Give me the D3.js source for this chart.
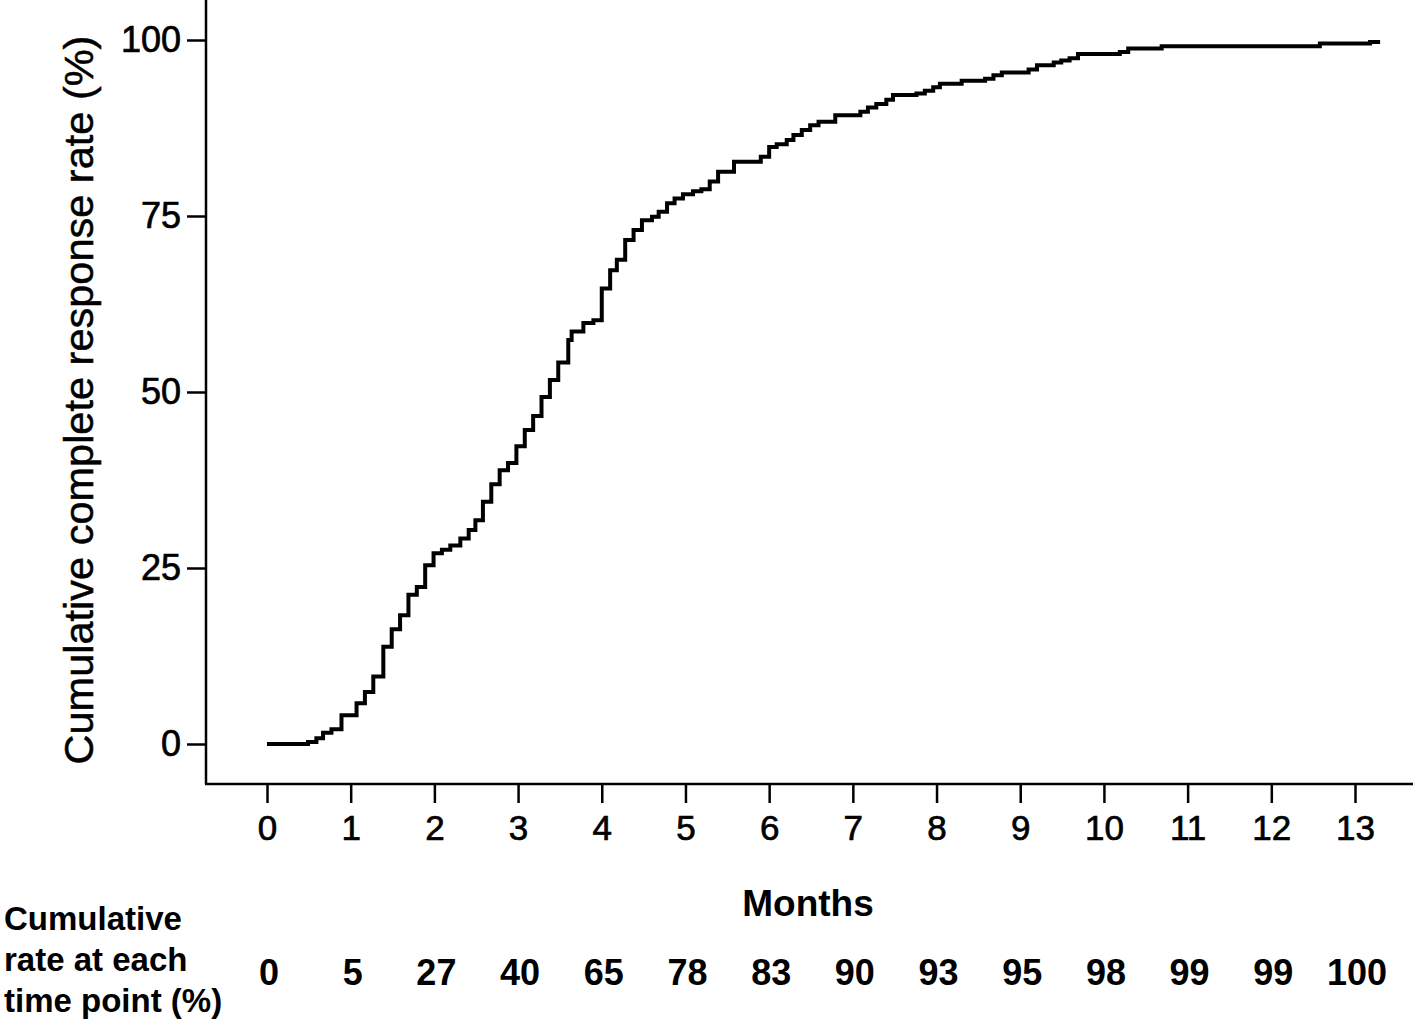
<!DOCTYPE html>
<html>
<head>
<meta charset="utf-8">
<script src="https://cdn.jsdelivr.net/npm/d3@7"></script>
<style>
  body { margin: 0; background: white; }
  text { font-family: "Liberation Sans", Arial, sans-serif; fill: black; }
</style>
</head>
<body>
<div id="chart"></div>
<script>
// step points of the cumulative curve (month, %)
var stepMonths = [0, 0.49, 0.59, 0.67, 0.77, 0.89, 1.07, 1.17, 1.27, 1.39, 1.49, 1.59, 1.69, 1.79, 1.89, 1.99,
  2.09, 2.19, 2.31, 2.41, 2.49, 2.58, 2.68, 2.78, 2.88, 2.98, 3.08, 3.18, 3.28, 3.38, 3.48, 3.60, 3.64, 3.78, 3.90,
  4.0, 4.10, 4.18, 4.28, 4.38, 4.48, 4.60, 4.68, 4.78, 4.87, 4.97, 5.09, 5.19, 5.29, 5.39, 5.58, 5.90,
  6.0, 6.09, 6.21, 6.29, 6.39, 6.49, 6.59, 6.79, 7.09, 7.18, 7.28, 7.40, 7.48, 7.76, 7.86, 7.96,
  8.04, 8.30, 8.58, 8.68, 8.78, 9.10, 9.20, 9.40, 9.49, 9.59, 9.69, 10.19, 10.29, 10.69, 12.58, 13.18, 13.30];
var stepRates = [0, 0.3, 0.8, 1.6, 2.1, 4.1, 5.8, 7.4, 9.6, 13.8, 16.3, 18.3, 21.2, 22.3, 25.4, 27.1,
  27.6, 28.2, 29.2, 30.4, 31.8, 34.4, 36.9, 38.9, 39.9, 42.3, 44.6, 46.6, 49.3, 51.7, 54.2, 57.4, 58.6, 59.8, 60.2,
  64.7, 67.3, 68.8, 71.6, 73.0, 74.4, 74.9, 75.6, 76.8, 77.5, 78.1, 78.5, 78.8, 79.9, 81.3, 82.7, 83.4,
  84.8, 85.2, 85.8, 86.5, 87.2, 87.9, 88.4, 89.3, 89.8, 90.4, 90.9, 91.5, 92.2, 92.4, 92.8, 93.3,
  93.8, 94.2, 94.5, 95.0, 95.4, 95.8, 96.4, 96.8, 97.1, 97.4, 98.0, 98.3, 98.8, 99.1, 99.5, 99.7, 99.7];

var monthTicks = [0, 1, 2, 3, 4, 5, 6, 7, 8, 9, 10, 11, 12, 13];
var rateTicks = [0, 25, 50, 75, 100];
var rowRates = [0, 5, 27, 40, 65, 78, 83, 90, 93, 95, 98, 99, 99, 100];

var width = 1416, height = 1021;

var svg = d3.select("#chart")
  .append("svg")
  .attr("width", width)
  .attr("height", height);

var x = d3.scaleLinear().domain([0, 13]).range([267, 1355]);
var y = d3.scaleLinear().domain([0, 100]).range([744, 40]);

// frame lines
svg.append("line")
  .attr("x1", 206).attr("x2", 206).attr("y1", 0).attr("y2", 784)
  .style("stroke", "black").style("stroke-width", 2.5);
svg.append("line")
  .attr("x1", 205).attr("x2", 1413).attr("y1", 784).attr("y2", 784)
  .style("stroke", "black").style("stroke-width", 2.5);

// x axis
var xAxis = svg.append("g")
  .attr("transform", "translate(0,785)")
  .call(d3.axisBottom(x).tickValues(monthTicks).tickSize(18).tickPadding(12).tickFormat(d3.format("d")));
xAxis.select(".domain").remove();
xAxis.selectAll(".tick line").style("stroke-width", 2.5);
xAxis.selectAll(".tick text")
  .style("font-size", "35px")
  .style("stroke", "black").style("stroke-width", 0.7)
  .attr("font-family", null);

// y axis
var yAxis = svg.append("g")
  .attr("transform", "translate(205,0)")
  .call(d3.axisLeft(y).tickValues(rateTicks).tickSize(18).tickPadding(6));
yAxis.select(".domain").remove();
yAxis.selectAll(".tick line").style("stroke-width", 2.5);
yAxis.selectAll(".tick text")
  .style("font-size", "36px")
  .style("stroke", "black").style("stroke-width", 0.7)
  .attr("font-family", null);

// curve
var points = stepMonths.map(function (m, i) { return [m, stepRates[i]]; });
var line = d3.line()
  .x(function (d) { return x(d[0]); })
  .y(function (d) { return y(d[1]); })
  .curve(d3.curveStepAfter);
svg.append("path")
  .datum(points)
  .attr("d", line)
  .style("fill", "none")
  .style("stroke", "black")
  .style("stroke-width", 4)
  .style("stroke-linejoin", "miter");

// axis titles
svg.append("text")
  .attr("text-anchor", "middle")
  .attr("transform", "translate(93,400) rotate(-90)")
  .style("font-size", "41.5px")
  .style("stroke", "black").style("stroke-width", 0.5)
  .text("Cumulative complete response rate (%)");

svg.append("text")
  .attr("text-anchor", "middle")
  .attr("x", 808)
  .attr("y", 916)
  .style("font-size", "37px")
  .style("font-weight", "bold")
  .text("Months");

// table row
var rowLabel = ["Cumulative", "rate at each", "time point (%)"];
svg.selectAll(".rowlabel")
  .data(rowLabel)
  .enter()
  .append("text")
  .attr("class", "rowlabel")
  .attr("x", 4)
  .attr("y", function (d, i) { return 930 + i * 41; })
  .style("font-size", "33px")
  .style("font-weight", "bold")
  .text(function (d) { return d; });

svg.selectAll(".rowval")
  .data(rowRates)
  .enter()
  .append("text")
  .attr("class", "rowval")
  .attr("text-anchor", "middle")
  .attr("x", function (d, i) { return x(i) + 2; })
  .attr("y", 985)
  .style("font-family", "'Liberation Sans Narrow', 'Arial Narrow', sans-serif")
  .style("font-size", "36px")
  .style("font-weight", "bold")
  .text(function (d) { return d; });
</script>
</body>
</html>
